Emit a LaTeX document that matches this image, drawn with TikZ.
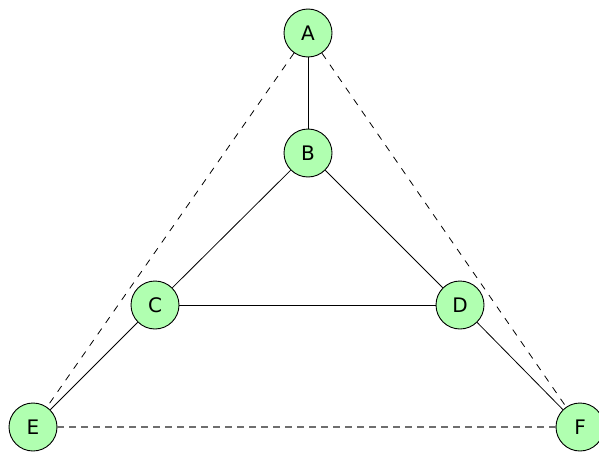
\documentclass[tikz,border=0pt]{standalone}
\usepackage{fontspec}
\setmainfont{DejaVu Sans}
\definecolor{nodegreen}{RGB}{176,255,176}
\definecolor{dashgray}{RGB}{110,110,110}
\begin{document}
\begin{tikzpicture}[x=1pt,y=-1pt,
  vert/.style={circle,draw=black,line width=0.9pt,fill=nodegreen,minimum size=48pt,inner sep=0pt,font=\fontsize{20}{22}\selectfont},
  edge/.style={line width=0.8pt},
  dedge/.style={line width=0.8pt,dash pattern=on 7pt off 7pt},
  gedge/.style={line width=1.2pt,draw=dashgray,dash pattern=on 7pt off 5pt}]
\useasboundingbox (0,0) rectangle (599,452);
\node[vert] (A) at (308,33) {A};
\node[vert] (B) at (308,153) {B};
\node[vert] (C) at (155,305) {C};
\node[vert] (D) at (460,305) {D};
\node[vert] (E) at (33,427) {E};
\node[vert] (F) at (580,427) {F};
\draw[edge] (A) -- (B);
\draw[edge] (B) -- (C);
\draw[edge] (B) -- (D);
\draw[edge] (C) -- (D);
\draw[edge] (C) -- (E);
\draw[edge] (D) -- (F);
\draw[dedge] (A) -- (E);
\draw[dedge] (A) -- (F);
\draw[gedge] (E) -- (F);
\end{tikzpicture}
\end{document}
